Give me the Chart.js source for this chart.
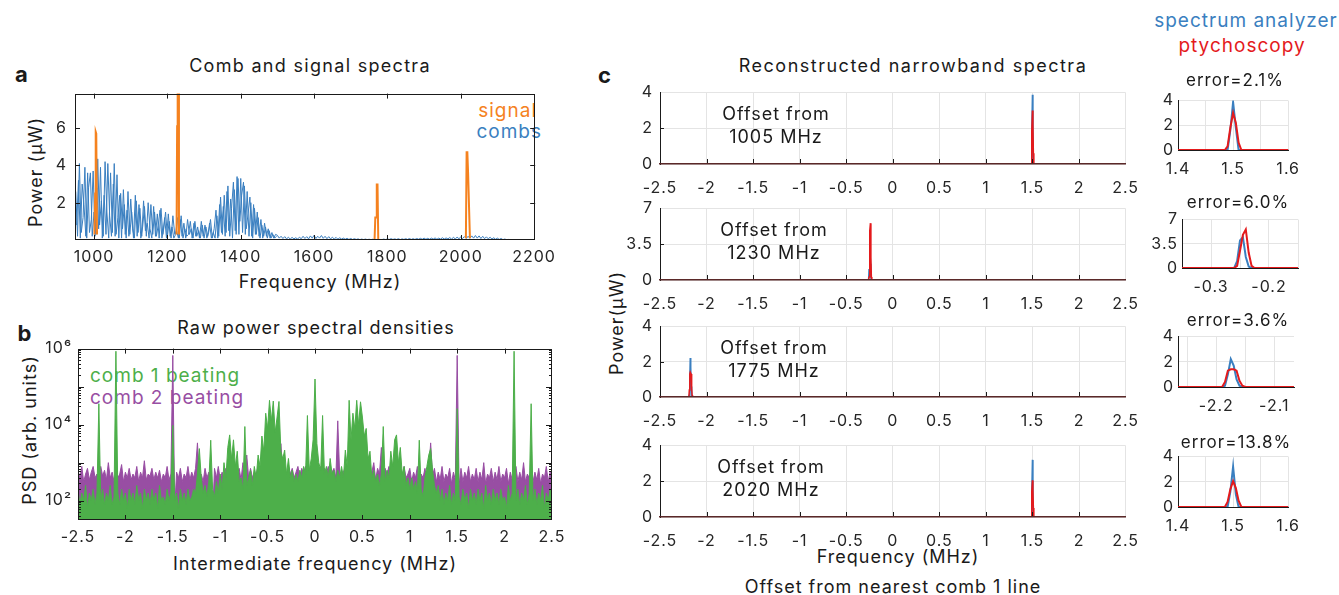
<!DOCTYPE html>
<html>
<head>
<meta charset="utf-8">
<script src="https://cdn.jsdelivr.net/npm/chart.js@4.4.0/dist/chart.umd.min.js"></script>
<style>
  html, body { margin: 0; padding: 0; background: #fff; }
  #fig { position: relative; width: 1339px; height: 595px; overflow: hidden; font-family: Inter, "Noto Sans", sans-serif; color: #1a1a1a; }
  .t { position: absolute; white-space: nowrap; transform: translate(-50%, -50%); font-size: 18px; line-height: 1; letter-spacing: 1px; }
  .l { transform: translate(0, -50%); }
  .r { transform: translate(-100%, -50%); }
  .rot { transform: translate(-50%, -50%) rotate(-90deg); }
  .big { font-weight: bold; font-size: 22px; }
</style>
</head>
<body>
<div id="fig">
  <div class="t big" style="left:22px;top:74px">a</div>
  <div class="t" style="left:310px;top:66px;letter-spacing:1.3px">Comb and signal spectra</div>
  <div class="t r" style="left:537px;top:110px;color:#f5821f;font-size:19px">signal</div>
  <div class="t r" style="left:542px;top:131px;color:#3a7fc0;font-size:19px">combs</div>
  <div class="t rot" style="left:36px;top:172px">Power (μW)</div>
  <div class="t" style="left:320px;top:282px">Frequency (MHz)</div>

  <div class="t big" style="left:25px;top:333px">b</div>
  <div class="t" style="left:316px;top:328px">Raw power spectral densities</div>
  <div class="t l" style="left:90px;top:375px;color:#4daf4a;font-size:19px">comb 1 beating</div>
  <div class="t l" style="left:90px;top:397px;color:#984ea3;font-size:19px">comb 2 beating</div>
  <div class="t rot" style="left:30px;top:430px">PSD (arb. units)</div>
  <div class="t" style="left:315px;top:564px">Intermediate frequency (MHz)</div>

  <div class="t big" style="left:605px;top:75px">c</div>
  <div class="t" style="left:913px;top:66px;letter-spacing:1.5px">Reconstructed narrowband spectra</div>
  <div class="t rot" style="left:617px;top:323px">Power(μW)</div>
  <div class="t" style="left:898px;top:557px">Frequency (MHz)</div>
  <div class="t" style="left:893px;top:587px">Offset from nearest comb 1 line</div>
  <div class="t" style="left:1246px;top:20px;color:#3a7fc0;font-size:19px">spectrum analyzer</div>
  <div class="t" style="left:1242px;top:45px;color:#e41a1c;font-size:19px">ptychoscopy</div>
</div>
<script>
// ---- panel a: comb and signal spectra (uW)
// comb trace A sampled every 5 MHz from 950 MHz, trace B interleaved 2.5 MHz later
const COMB_START = 950;
const COMB_STEP = 5;
const combPower = [
  2.6, 0.2, 4.1, 0.4, 1.2, 3.9, 0.1, 2.8, 3.6, 0.2,
  1.5, 0.3, 4.35, 0.8, 2.1, 0.2, 4.2, 1.5, 0.1, 3.6,
  0.4, 4.1, 0.3, 1.2, 2.4, 0.1, 2.7, 0.3, 1.6, 0.2,
  2.2, 0.6, 0.1, 2.1, 0.4, 1.7, 0.2, 2.1, 0.5, 0.9,
  0.1, 1.9, 0.3, 1.5, 0.2, 0.8, 1.6, 0.1, 0.6, 1.5,
  0.2, 1.0, 0.1, 1.3, 0.3, 0.5, 0.1, 1.1, 0.2, 0.9,
  0.1, 1.1, 0.3, 0.6, 0.1, 1.0, 0.2, 0.5, 0.1, 0.8,
  0.1, 0.7, 0.2, 0.9, 0.1, 0.4, 0.1, 1.3, 0.2, 2.3,
  0.3, 2.4, 0.4, 2.9, 0.2, 1.7, 3.1, 0.5, 3.4, 0.3,
  3.3, 0.4, 2.9, 0.6, 1.4, 2.3, 0.2, 1.9, 0.3, 1.5,
  0.2, 1.1, 0.1, 0.9, 0.2, 0.6, 0.1, 0.4, 0.1, 0.3,
  0.25, 0.1, 0.2, 0.08, 0.18, 0.06, 0.15, 0.05, 0.14, 0.06,
  0.12, 0.05, 0.15, 0.07, 0.2, 0.08, 0.18, 0.06, 0.22, 0.1,
  0.25, 0.08, 0.2, 0.1, 0.24, 0.09, 0.2, 0.07, 0.18, 0.06,
  0.15, 0.05, 0.14, 0.04, 0.12, 0.05, 0.1, 0.04, 0.09, 0.03,
  0.08, 0.03, 0.07, 0.03, 0.06, 0.02, 0.05, 0.02, 0.05, 0.02,
  0.04, 0.02, 0.04, 0.02, 0.03, 0.02, 0.03, 0.02, 0.05, 0.02,
  0.06, 0.03, 0.07, 0.03, 0.06, 0.03, 0.07, 0.02, 0.06, 0.03,
  0.07, 0.03, 0.08, 0.03, 0.07, 0.03, 0.08, 0.04, 0.09, 0.04,
  0.1, 0.04, 0.09, 0.04, 0.1, 0.05, 0.11, 0.04, 0.1, 0.05,
  0.12, 0.05, 0.11, 0.06, 0.13, 0.05, 0.14, 0.06, 0.15, 0.07,
  0.16, 0.08, 0.18, 0.08, 0.2, 0.09, 0.22, 0.1, 0.24, 0.1,
  0.22, 0.08, 0.2, 0.07, 0.17, 0.06, 0.15, 0.05, 0.12, 0.04,
  0.1, 0.03, 0.08, 0.02, 0.05, 0.02, 0.03, 0.01, 0, 0
];
const COMB_B_START = 952.5;
const combPowerB = [
  0.8, 3.2, 0.1, 3.0, 1.9, 0.2, 3.6, 0.4, 1.1, 3.7,
  0.2, 2.8, 0.6, 3.9, 0.1, 2.4, 0.3, 4.1, 1.3, 0.2,
  3.0, 0.2, 3.5, 0.1, 2.5, 0.6, 1.9, 0.1, 2.6, 0.3,
  1.5, 0.1, 2.4, 0.2, 1.9, 0.1, 0.7, 1.8, 0.2, 2.0,
  0.6, 0.1, 1.8, 0.2, 1.4, 0.1, 1.7, 0.3, 1.2, 0.1,
  1.4, 0.2, 0.7, 0.1, 0.3, 1.2, 0.1, 1.3, 0.1, 0.6,
  0.2, 0.3, 1.0, 0.1, 0.9, 0.2, 0.7, 0.1, 1.0, 0.2,
  0.8, 0.1, 0.4, 1.1, 0.1, 0.6, 1.6, 0.1, 1.9, 0.4,
  1.8, 0.2, 2.6, 0.5, 2.2, 0.1, 2.7, 0.3, 3.3, 1.0,
  2.4, 3.1, 0.3, 2.6, 0.2, 2.0, 0.1, 1.7, 0.3, 1.2,
  0.1, 0.8, 0.2, 0.7, 0.1, 0.5, 0.1, 0.3, 0.1, 0.2
];
const signalFreq  = [1001, 1003, 1004.5, 1006, 1008, 1010, 1225, 1226.5, 1227.5, 1228.5, 1230, 1231.5, 1240,
                     1765, 1767, 1769, 1771, 1773, 1775, 1780, 2014, 2016, 2018, 2020, 2022, 2025];
const signalPower = [0.3, 2.5, 5.8, 5.7, 0.3, null, 0.3, 6.1, 6.1, 8.5, 8.5, 0.3, null,
                     0.05, 1.2, 1.2, 2.97, 2.97, 0.05, null, 0.1, 4.7, 4.7, 3.6, 3.6, 0.1];
const freqTicks = [1000, 1200, 1400, 1600, 1800, 2000, 2200];
const powerTicksA = [2, 4, 6];

// ---- panel b: raw PSDs, log10 of the value, sampled every 0.02 MHz from -2.5 MHz
// comb 2 is the upper envelope of its dense trace
const PSD_START = -2.5;
const PSD_STEP = 0.02;
const comb1LogPsd = [
  2.3, 1.9, 2.2, 2.0, 2.4, 1.8, 2.2, 2.0, 2.3, 1.9,
  2.2, 4.55, 2.0, 2.3, 1.9, 2.2, 2.0, 2.4, 1.9, 2.1,
  5.93, 2.2, 1.9, 2.3, 2.0, 2.2, 1.8, 2.3, 2.0, 2.2,
  1.9, 2.4, 2.0, 2.2, 1.8, 2.3, 2.0, 2.2, 1.9, 2.3,
  2.0, 2.2, 1.8, 2.4, 2.0, 2.1, 1.9, 2.3, 2.0, 2.2,
  3.98, 2.0, 2.2, 1.8, 2.3, 2.0, 2.2, 1.9, 2.3, 2.0,
  2.1, 2.3, 2.2, 2.7, 3.37, 2.6, 2.2, 2.4, 2.1, 2.5,
  3.59, 2.3, 2.1, 2.5, 2.2, 2.7, 2.3, 3.0, 2.6, 3.4,
  3.73, 3.1, 3.6, 2.9, 3.3, 2.5, 2.6, 2.3, 3.95, 2.4,
  2.6, 2.8, 2.4, 2.9, 2.6, 3.2, 2.9, 3.7, 3.3, 4.3,
  3.9, 4.64, 4.1, 4.62, 3.8, 4.2, 4.61, 3.3, 3.1, 3.33,
  2.7, 3.11, 2.6, 2.8, 2.5, 2.7, 2.5, 2.8, 2.6, 2.9,
  2.7, 4.24, 2.8, 3.1, 3.6, 5.2, 3.5, 3.0, 2.8, 4.24,
  2.7, 2.9, 2.6, 3.11, 2.7, 2.8, 2.5, 2.8, 2.6, 2.9,
  2.6, 3.33, 2.9, 4.64, 3.6, 4.3, 3.9, 4.64, 4.0, 4.6,
  4.2, 3.7, 3.9, 3.1, 3.3, 2.6, 2.8, 2.5, 2.7, 2.4,
  2.7, 3.95, 2.5, 2.8, 2.6, 3.3, 2.9, 3.6, 3.73, 3.0,
  3.4, 2.7, 2.9, 2.4, 2.6, 2.3, 2.6, 2.3, 2.5, 2.2,
  3.59, 2.3, 2.1, 2.6, 2.9, 3.2, 3.37, 2.8, 2.4, 2.2,
  2.4, 2.0, 2.3, 1.9, 2.2, 2.0, 2.4, 1.9, 2.2, 2.0,
  4.42, 2.1, 1.9, 2.3, 2.0, 2.2, 1.8, 2.3, 2.0, 2.2,
  1.9, 2.3, 2.0, 2.2, 1.8, 2.4, 2.0, 2.2, 1.9, 2.3,
  2.0, 2.2, 1.9, 2.3, 2.0, 2.1, 1.8, 2.4, 2.0, 2.2,
  5.93, 2.0, 2.3, 1.9, 2.2, 2.0, 2.4, 1.9, 2.2, 4.55,
  2.0, 2.3, 1.9, 2.2, 2.0, 2.4, 1.8, 2.2, 2.0, 2.3, 2.1
];
const comb2LogPsd = [
  2.8, 2.6, 2.9, 2.5, 2.7, 2.85, 2.55, 2.75, 2.9, 2.6,
  2.7, 2.5, 2.9, 2.65, 2.8, 2.55, 3.0, 2.6, 2.75, 2.5,
  2.8, 2.6, 2.7, 2.95, 2.5, 2.75, 2.6, 2.85, 2.55, 2.7,
  2.6, 2.9, 2.5, 2.75, 2.6, 3.05, 2.55, 2.7, 2.65, 2.85,
  2.55, 2.75, 2.6, 2.8, 2.5, 2.7, 2.6, 2.9, 2.55, 2.7,
  5.82, 1.8, 2.75, 2.6, 2.85, 2.5, 2.7, 2.6, 2.9, 2.55,
  2.75, 2.6, 2.85, 3.52, 2.65, 2.7, 2.5, 2.85, 2.6, 2.75,
  2.5, 1.6, 2.85, 2.6, 2.9, 2.55, 2.75, 2.6, 2.85, 2.6,
  2.7, 2.9, 2.6, 2.75, 2.65, 2.85, 2.55, 3.0, 2.7, 3.2,
  2.6, 2.85, 2.6, 2.75, 2.7, 2.9, 2.6, 2.85, 2.7, 2.75,
  2.9, 2.7, 2.85, 2.6, 2.75, 2.9, 2.7, 3.5, 2.75, 2.85,
  2.6, 2.9, 2.7, 2.85, 2.6, 2.75, 2.9, 2.6, 2.85, 2.7,
  2.9, 2.6, 2.75, 2.7, 2.85, 1.4, 2.75, 2.7, 2.9, 2.6,
  2.85, 2.7, 2.9, 2.6, 2.75, 2.85, 2.6, 4.1, 2.7, 2.75,
  2.75, 2.9, 2.7, 2.85, 2.6, 2.75, 2.9, 2.7, 2.85, 2.6,
  2.75, 2.9, 2.7, 2.85, 2.6, 2.75, 3.0, 2.55, 2.85, 2.7,
  3.4, 2.6, 2.85, 2.7, 2.9, 2.55, 2.75, 2.6, 2.85, 2.5,
  2.75, 2.55, 2.9, 2.6, 2.7, 2.85, 2.5, 2.75, 2.6, 2.9,
  1.7, 2.7, 2.6, 2.85, 2.55, 2.75, 3.52, 2.65, 2.85, 2.5,
  2.75, 2.55, 2.9, 2.5, 2.7, 2.6, 2.85, 2.45, 2.75, 2.55,
  5.82, 2.4, 2.85, 2.5, 2.75, 2.6, 2.9, 2.5, 2.7, 2.55,
  2.85, 2.5, 2.75, 2.55, 3.0, 2.45, 2.7, 2.6, 2.85, 2.5,
  2.75, 2.55, 2.9, 2.5, 2.7, 2.6, 2.85, 2.45, 2.75, 2.55,
  2.7, 2.9, 2.5, 2.75, 2.55, 3.0, 2.5, 2.7, 2.6, 2.85,
  2.5, 2.75, 2.55, 2.85, 2.45, 2.7, 2.6, 2.9, 2.5, 2.75, 2.65
];
const ifTicks = [-2.5, -2, -1.5, -1, -0.5, 0, 0.5, 1, 1.5, 2, 2.5];
const psdMajorTicks = [1e2, 1e4, 1e6];
const psdMajorLabels = ['10²', '10⁴', '10⁶'];

// ---- panel c: reconstructed spectra (uW) vs offset from nearest comb 1 line (MHz)
const signalNames = ['1005 MHz', '1230 MHz', '1775 MHz', '2020 MHz'];
const errorLabels = ['error=2.1%', 'error=6.0%', 'error=3.6%', 'error=13.8%'];
const offset1 = [-2.5, 1.485, 1.49, 1.495, 1.5, 1.505, 1.51, 1.515, 1.52, 2.5];
const sa1     = [0, 0, 0, 1.6, 3.88, 1.8, 0, 0, 0, 0];
const pty1    = [0, 0, 0.3, 1.8, 3.0, 2.2, 0.6, 0, 0, 0];
const offset2 = [-2.5, -0.26, -0.255, -0.25, -0.245, -0.24, -0.235, -0.23, -0.225, 2.5];
const sa2     = [0, 0, 1.0, 4.0, 4.46, 1.6, 0.2, 0, 0, 0];
const pty2    = [0, 0, 0.3, 2.5, 4.8, 5.57, 2.2, 0.3, 0, 0];
const offset3 = [-2.5, -2.19, -2.185, -2.18, -2.175, -2.17, -2.165, -2.16, -2.155, -2.15, 2.5];
const sa3     = [0, 0, 0.1, 1.0, 2.22, 1.7, 0.6, 0.1, 0, 0, 0];
const pty3    = [0, 0, 0.4, 1.3, 1.41, 1.41, 1.3, 0.5, 0.1, 0, 0];
const offset4 = [-2.5, 1.485, 1.49, 1.495, 1.5, 1.505, 1.51, 1.515, 2.5];
const sa4     = [0, 0, 0, 1.2, 3.2, 1.0, 0, 0, 0];
const pty4    = [0, 0, 0.4, 1.4, 2.05, 1.5, 0.5, 0, 0];
const offsetTicks = [-2.5, -2, -1.5, -1, -0.5, 0, 0.5, 1, 1.5, 2, 2.5];
const powerTicksC = [[0, 2, 4], [0, 3.5, 7], [0, 2, 4], [0, 2, 4]];
const zoomRanges = [[1.4, 1.6], [-0.35, -0.15], [-2.266, -2.066], [1.4, 1.6]];
const zoomTicks = [
  [1.4, 1.45, 1.5, 1.55, 1.6],
  [-0.35, -0.3, -0.25, -0.2, -0.15],
  [-2.25, -2.2, -2.15, -2.1],
  [1.4, 1.45, 1.5, 1.55, 1.6]
];
const zoomTickLabels = [
  ['1.4', '', '1.5', '', '1.6'],
  ['', '-0.3', '', '-0.2', ''],
  ['', '-2.2', '', '-2.1'],
  ['1.4', '', '1.5', '', '1.6']
];

const BLUE = '#3a7fc0', ORANGE = '#f5821f', GREEN = '#4daf4a', PURPLE = '#984ea3', RED = '#e41a1c';
const GRID = '#e4e4e4', TICK_TEXT = '#262626', INK = '#1a1a1a';

Chart.defaults.font.family = 'Inter, "Noto Sans", sans-serif';
Chart.defaults.font.size = 16;
Chart.defaults.color = TICK_TEXT;

// wider tracking on canvas text, like the figure's typeface
Chart.register({
  id: 'tracking',
  beforeUpdate(chart) { chart.ctx.letterSpacing = '1px'; },
  beforeDraw(chart) { chart.ctx.letterSpacing = '1px'; }
});

const fig = document.getElementById('fig');

// inward tick marks and optional full box, drawn on top of the data
const innerTicks = {
  id: 'innerTicks',
  afterDatasetsDraw(chart, args, o) {
    const { ctx, chartArea: a } = chart;
    const xs = chart.scales.x, ys = chart.scales.y;
    ctx.save();
    ctx.strokeStyle = INK;
    ctx.lineWidth = 1;
    ctx.beginPath();
    xs.ticks.forEach(t => {
      const p = Math.round(xs.getPixelForValue(t.value)) + 0.5;
      if (p < a.left + 1 || p > a.right - 1) return;
      ctx.moveTo(p, a.bottom); ctx.lineTo(p, a.bottom - o.xLen);
      if (o.mirror) { ctx.moveTo(p, a.top); ctx.lineTo(p, a.top + o.xLen); }
    });
    ys.ticks.forEach(t => {
      const p = Math.round(ys.getPixelForValue(t.value)) + 0.5;
      if (p < a.top + 1 || p > a.bottom - 1) return;
      let len = o.yLen;
      if (o.minorLen) {
        const e = Math.log10(t.value);
        if (Math.abs(e - Math.round(e)) > 1e-6) len = o.minorLen;
      }
      ctx.moveTo(a.left, p); ctx.lineTo(a.left + len, p);
      if (o.mirror) { ctx.moveTo(a.right, p); ctx.lineTo(a.right - len, p); }
    });
    ctx.stroke();
    if (o.box) {
      ctx.strokeRect(Math.round(a.left) + 0.5, Math.round(a.top) + 0.5,
                     Math.round(a.width) - 1, Math.round(a.height) - 1);
    }
    ctx.restore();
  }
};

function makeCanvas(plot, pad) {
  const c = document.createElement('canvas');
  const w = plot.r - plot.l + pad.l + pad.r;
  const h = plot.b - plot.t + pad.t + pad.b;
  c.width = w; c.height = h;
  c.style.cssText = `position:absolute;left:${plot.l - pad.l}px;top:${plot.t - pad.t}px;width:${w}px;height:${h}px`;
  fig.appendChild(c);
  return c;
}

function axis(type, min, max, vals, labels, o) {
  return {
    type, min, max,
    afterBuildTicks: s => { s.ticks = vals.map(v => ({ value: v })); },
    afterFit: s => { if (o.isX) s.height = o.size; else s.width = o.size; },
    ticks: {
      autoSkip: false, maxRotation: 0, minRotation: 0,
      padding: o.padding, font: { size: o.fontSize || 16 }, color: TICK_TEXT,
      callback: (v, i) => labels[i]
    },
    grid: { display: !!o.grid, color: GRID, lineWidth: 1, drawTicks: false },
    border: { display: o.border !== false, color: o.borderColor || INK, width: o.borderWidth || 1, z: o.borderZ || 0 }
  };
}

function chartAt(plot, pad, datasets, scales, plugins, tickOpts) {
  return new Chart(makeCanvas(plot, pad), {
    type: 'line',
    data: { datasets },
    options: {
      responsive: false,
      animation: false,
      parsing: false,
      normalized: true,
      layout: { padding: { left: 0, top: pad.t, right: pad.r, bottom: 0 } },
      elements: { point: { radius: 0 }, line: { tension: 0 } },
      plugins: { legend: { display: false }, tooltip: { enabled: false }, innerTicks: tickOpts || {} },
      scales
    },
    plugins
  });
}

// ---- panel a
const combPoints = combPower.map((p, i) => ({ x: COMB_START + i * COMB_STEP, y: p }));
const combPointsB = combPowerB.map((p, i) => ({ x: COMB_B_START + i * COMB_STEP, y: p }));
const signalPoints = signalFreq.map((f, i) => ({ x: f, y: signalPower[i] }));
chartAt({ l: 75, t: 88, r: 538, b: 240 }, { l: 45, t: 12, r: 26, b: 30 },
  [
    { data: signalPoints, borderColor: ORANGE, borderWidth: 2, spanGaps: false, order: 0 },
    { data: combPoints, borderColor: BLUE, borderWidth: 1, order: 1 },
    { data: combPointsB, borderColor: BLUE, borderWidth: 1, order: 2 }
  ],
  {
    x: axis('linear', 948, 2203, freqTicks, freqTicks.map(String), { isX: true, size: 30, padding: 8, border: false }),
    y: axis('linear', 0, 7.85, powerTicksA, powerTicksA.map(String), { size: 45, padding: 8, border: false })
  },
  [innerTicks], { xLen: 5, yLen: 5, mirror: true, box: true });

// ---- panel b
const psdTicks = [];
for (let e = 1; e <= 5; e++) {
  for (let d = 1; d <= 9; d++) {
    const v = d * Math.pow(10, e);
    if (v >= 31) psdTicks.push(v);
  }
}
psdTicks.push(1e6);
const psdLabels = psdTicks.map(v => {
  const k = psdMajorTicks.indexOf(v);
  return k >= 0 ? psdMajorLabels[k] : '';
});
const comb1Points = comb1LogPsd.map((v, i) => ({ x: PSD_START + i * PSD_STEP, y: Math.pow(10, v) }));
const comb2Points = comb2LogPsd.map((v, i) => ({ x: PSD_START + i * PSD_STEP, y: Math.pow(10, v) }));
chartAt({ l: 78, t: 347, r: 552, b: 520 }, { l: 60, t: 14, r: 26, b: 30 },
  [
    { data: comb1Points, borderColor: GREEN, backgroundColor: GREEN, borderWidth: 1, fill: 'start', order: 0 },
    { data: comb2Points, borderColor: PURPLE, backgroundColor: PURPLE, borderWidth: 1, fill: 'start', order: 1 }
  ],
  {
    x: axis('linear', -2.5, 2.5, ifTicks, ifTicks.map(String), { isX: true, size: 30, padding: 8, border: false }),
    y: axis('logarithmic', 31, 1e6, psdTicks, psdLabels, { size: 60, padding: 6, border: false })
  },
  [innerTicks], { xLen: 5, yLen: 6, minorLen: 3, mirror: true, box: true });

// ---- panel c: full-range spectra and zoomed insets
const mainTops = [88, 204, 322, 441];
const mainBottoms = [164, 280, 397, 517];
const insetPlots = [
  { l: 1178, t: 97, r: 1294, b: 150 },
  { l: 1182, t: 216, r: 1298, b: 268 },
  { l: 1178, t: 333, r: 1294, b: 387 },
  { l: 1178, t: 453, r: 1294, b: 507 }
];
const insetTitleY = [80, 202, 320, 442];
const insetTitleX = [1235, 1238, 1238, 1236];
const offsetTextX = [776, 774, 774, 771];
const offsets = [offset1, offset2, offset3, offset4];
const saSpectra = [sa1, sa2, sa3, sa4];
const ptySpectra = [pty1, pty2, pty3, pty4];

offsets.forEach((freq, k) => {
  const sa = freq.map((f, i) => ({ x: f, y: saSpectra[k][i] }));
  const pty = freq.map((f, i) => ({ x: f, y: ptySpectra[k][i] }));
  const yT = powerTicksC[k];
  const yMax = yT[yT.length - 1];

  chartAt({ l: 660, t: mainTops[k], r: 1128, b: mainBottoms[k] }, { l: 34, t: 12, r: 26, b: 38 },
    [
      { data: pty, borderColor: RED, borderWidth: 1.5, order: 0 },
      { data: sa, borderColor: BLUE, borderWidth: 1.5, order: 1 }
    ],
    {
      x: axis('linear', -2.5, 2.5, offsetTicks, offsetTicks.map(String),
        { isX: true, size: 38, padding: 15, grid: true, borderColor: '#5a2828', borderWidth: 1.5, borderZ: 1 }),
      y: axis('linear', 0, yMax, yT, yT.map(String), { size: 34, padding: 7, grid: true })
    },
    [innerTicks], { xLen: 5, yLen: 4 });

  const zr = zoomRanges[k];
  chartAt(insetPlots[k], { l: 30, t: 10, r: 16, b: 34 },
    [
      { data: pty, borderColor: RED, borderWidth: 2, order: 0 },
      { data: sa, borderColor: BLUE, borderWidth: 2, order: 1 }
    ],
    {
      x: axis('linear', zr[0], zr[1], zoomTicks[k], zoomTickLabels[k], { isX: true, size: 34, padding: 10, grid: true }),
      y: axis('linear', 0, yMax, yT, yT.map(String), { size: 30, padding: 4, grid: true })
    },
    [], null);

  const title = document.createElement('div');
  title.className = 't';
  title.style.cssText = `left:${insetTitleX[k]}px;top:${insetTitleY[k]}px;font-size:17px`;
  title.textContent = errorLabels[k];
  fig.appendChild(title);

  const mid = (mainTops[k] + mainBottoms[k]) / 2;
  [['Offset from', mid - 12], [signalNames[k], mid + 11]].forEach(([txt, y]) => {
    const d = document.createElement('div');
    d.className = 't';
    d.style.cssText = `left:${offsetTextX[k]}px;top:${y}px`;
    d.textContent = txt;
    fig.appendChild(d);
  });
});
</script>
</body>
</html>
